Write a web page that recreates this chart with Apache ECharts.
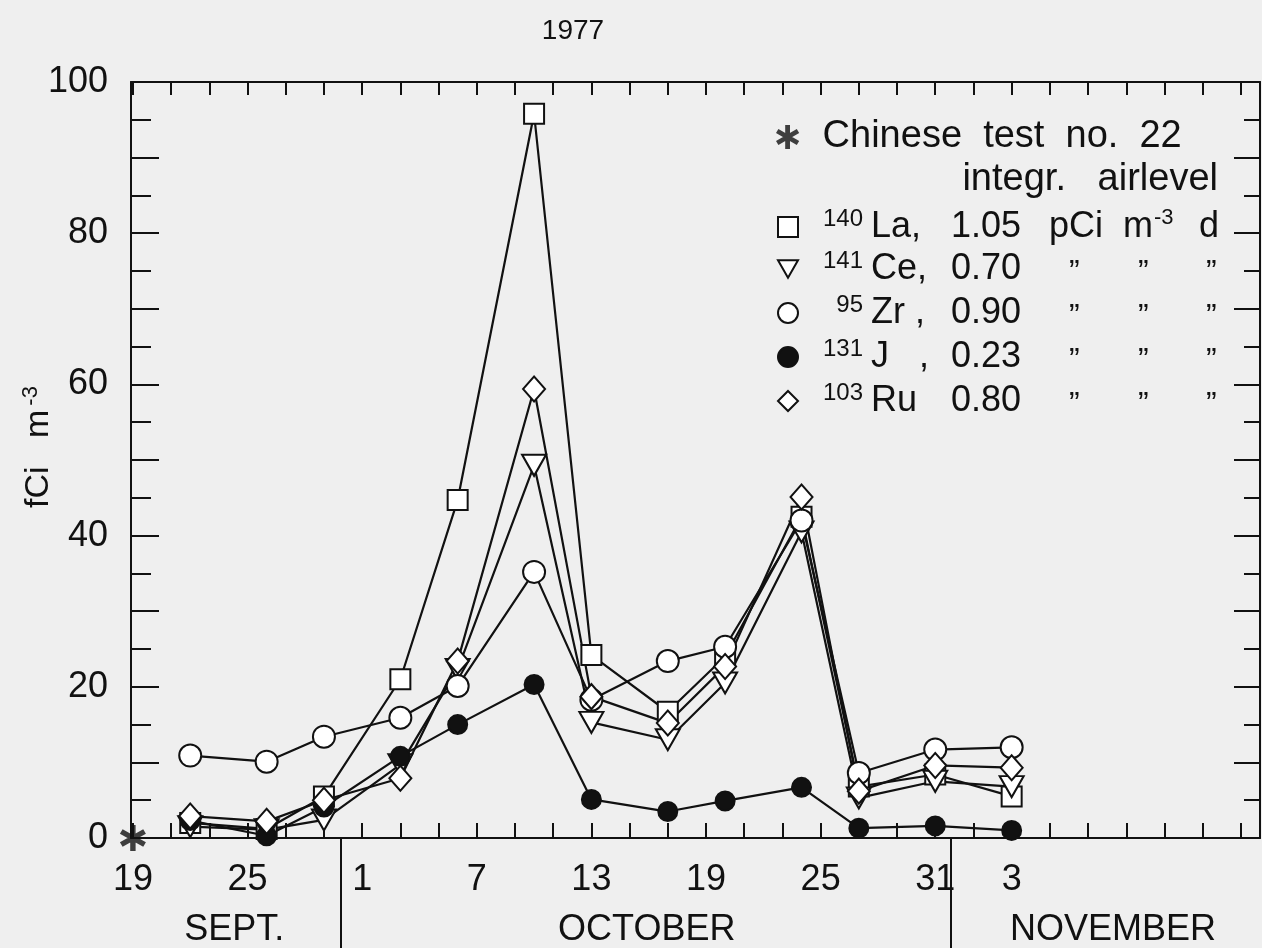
<!DOCTYPE html>
<html>
<head>
<meta charset="utf-8">
<script src="https://cdn.jsdelivr.net/npm/echarts@6/dist/echarts.min.js"></script>
<style>
  html, body { margin: 0; padding: 0; background: #efefef; }
  #chart { width: 1262px; height: 948px; }
</style>
</head>
<body>
<div id="chart"></div>
<script>
// Sampling days, counted from 19 September 1977 (day 0)
const sampleDays = [3, 7, 10, 14, 17, 21, 24, 28, 31, 35, 38, 42, 46];

// Air concentrations in fCi m^-3
const la140 = [2.0, 1.2, 5.5, 21.0, 44.7, 95.8, 24.2, 16.7, 24.0, 42.5, 6.8, 8.4, 5.5];
const ce141 = [1.5, 1.1, 2.4, 9.7, 22.3, 49.3, 15.3, 13.0, 20.5, 40.5, 5.3, 7.5, 6.8];
const zr95  = [10.9, 10.1, 13.4, 15.9, 20.1, 35.2, 18.3, 23.4, 25.3, 42.0, 8.6, 11.7, 12.0];
const j131  = [2.3, 0.3, 4.1, 10.8, 15.0, 20.3, 5.1, 3.5, 4.9, 6.7, 1.3, 1.6, 1.0];
const ru103 = [2.9, 2.2, 5.0, 7.9, 23.4, 59.4, 18.7, 15.2, 22.7, 45.1, 6.2, 9.6, 9.3];

// Chinese test no. 22
const testDay = 0;
const testValue = 0;

// Legend texts: mass number, element, integrated air level (pCi m^-3 d)
const nuclideMass = ['140', '141', '  95', '131', '103'];
const nuclideElem = ['La,', 'Ce,', 'Zr ,', 'J   ,', 'Ru'];
const airLevel = ['1.05', '0.70', '0.90', '0.23', '0.80'];

// Day axis labels and month row
const dayLabelDays = [0, 6, 12, 18, 24, 30, 36, 42, 46];
const dayLabelText = ['19', '25', '1', '7', '13', '19', '25', '31', '3'];
const monthDays = [5.3, 26.9, 51.3];
const monthText = ['SEPT.', 'OCTOBER', 'NOVEMBER'];
const monthBreaks = [10.9, 42.8];

const FONT = "'Liberation Sans', Arial, sans-serif";
const dayTicks = [];
for (let d = 0; d <= 58; d += 2) dayTicks.push(d);

const triDown = 'path://M0,0 L20,0 L10,17.3 Z';
const star = 'path://M-2,-10 L2,-10 L2,10 L-2,10 Z ' +
  'M7.66,-6.73 L9.66,-3.27 L-7.66,6.73 L-9.66,3.27 Z ' +
  'M9.66,3.27 L7.66,6.73 L-9.66,-3.27 L-7.66,-6.73 Z';

const seriesNames = nuclideMass.map((m, i) => m.trim() + nuclideElem[i].replace(/[ ,]/g, ''));
const seriesValues = [la140, ce141, zr95, j131, ru103];
const seriesSymbols = ['rect', triDown, 'circle', 'circle', 'diamond'];
const seriesSizes = [[20, 20], [24, 21], [22, 22], [19, 19], [22, 25]];
const seriesFill = ['#ffffff', '#ffffff', '#ffffff', '#111111', '#ffffff'];

const chart = echarts.init(document.getElementById('chart'), null, { renderer: 'canvas' });

const lineSeries = seriesNames.map((name, i) => ({
  name: name,
  type: 'line',
  xAxisIndex: 0,
  yAxisIndex: 0,
  data: sampleDays.map((d, k) => [d, seriesValues[i][k]]),
  symbol: seriesSymbols[i],
  symbolSize: seriesSizes[i],
  showAllSymbol: true,
  lineStyle: { color: '#111', width: 2.2 },
  itemStyle: { color: seriesFill[i], borderColor: '#111', borderWidth: 2 },
  emphasis: { disabled: true },
  z: 3
}));

// Legend columns: every token left-aligned in a fixed-width box
const base = { fontFamily: FONT, color: '#111', align: 'left' };
const tok = (extra) => Object.assign({}, base, extra);
const richLegend = {
  g:    tok({ fontSize: 24, width: 20, lineHeight: 16 }),
  sup:  tok({ fontSize: 24, width: 48, verticalAlign: 'top', lineHeight: 16 }),
  el:   tok({ fontSize: 36, width: 80, lineHeight: 40 }),
  val:  tok({ fontSize: 36, width: 98, lineHeight: 40 }),
  u1:   tok({ fontSize: 36, width: 74, lineHeight: 40 }),
  m:    tok({ fontSize: 36, width: 31, lineHeight: 40 }),
  sup2: tok({ fontSize: 22, width: 45, verticalAlign: 'top', lineHeight: 18 }),
  u3:   tok({ fontSize: 36, width: 30, lineHeight: 40 }),
  g2:   tok({ fontSize: 32, width: 20, lineHeight: 30 }),
  q1:   tok({ fontSize: 32, width: 69, verticalAlign: 'bottom', lineHeight: 30 }),
  q2:   tok({ fontSize: 32, width: 68, verticalAlign: 'bottom', lineHeight: 30 }),
  q3:   tok({ fontSize: 32, width: 20, verticalAlign: 'bottom', lineHeight: 30 })
};

function legendText(name) {
  const i = seriesNames.indexOf(name);
  let s = '{g| }{sup|' + nuclideMass[i] + '}{el|' + nuclideElem[i] + '}{val|' + airLevel[i] + '}';
  if (i === 0) {
    s += '{u1|pCi}{m|m}{sup2|-3}{u3|d}';
  } else {
    s += '{g2| }{q1|\u201D}{q2|\u201D}{q3|\u201D}';
  }
  return s;
}

const option = {
  backgroundColor: '#efefef',
  animation: false,
  textStyle: { fontFamily: FONT, color: '#111' },
  grid: { left: 131, right: 2, top: 82, bottom: 110, containLabel: false, outerBoundsMode: 'none' },
  legend: [
    {
      data: [{ name: 'Chinese test no. 22', icon: star }],
      left: 771, top: 113, padding: 5,
      itemWidth: 24, itemHeight: 24,
      itemStyle: { borderWidth: 0 },
      formatter: '{t|Chinese  test  no.  22}',
      textStyle: { rich: { t: tok({ fontSize: 38, lineHeight: 40, padding: [0, 0, 0, 18] }) } },
      selectedMode: false
    },
    {
      data: seriesNames.map((n, i) => ({ name: n, icon: seriesSymbols[i] })),
      orient: 'vertical',
      left: 772, top: 202, padding: 5,
      itemWidth: 20, itemHeight: 20,
      itemGap: 4,
      itemStyle: { borderColor: '#111', borderWidth: 2 },
      formatter: legendText,
      textStyle: { rich: richLegend },
      selectedMode: false
    }
  ],
  xAxis: [
    {
      type: 'value', position: 'bottom', min: -0.1, max: 59,
      axisLine: { show: true, onZero: false, lineStyle: { color: '#111', width: 2 } },
      axisTick: { show: true, inside: true, length: 15, customValues: dayTicks, lineStyle: { color: '#111', width: 2 } },
      axisLabel: {
        show: true, margin: 24, fontSize: 36, color: '#111', fontFamily: FONT,
        customValues: dayLabelDays,
        formatter: v => dayLabelText[dayLabelDays.indexOf(v)] || ''
      },
      splitLine: { show: false }
    },
    {
      type: 'value', position: 'top', min: -0.1, max: 59,
      axisLine: { show: true, onZero: false, lineStyle: { color: '#111', width: 2 } },
      axisTick: { show: true, inside: true, length: 13, customValues: dayTicks, lineStyle: { color: '#111', width: 2 } },
      axisLabel: { show: false },
      splitLine: { show: false }
    },
    {
      type: 'value', position: 'bottom', min: -0.1, max: 59,
      axisLine: { show: false, onZero: false },
      axisTick: { show: true, inside: false, length: 112, customValues: monthBreaks, lineStyle: { color: '#111', width: 2 } },
      axisLabel: {
        show: true, margin: 74, fontSize: 36, color: '#111', fontFamily: FONT,
        customValues: monthDays,
        formatter: v => monthText[monthDays.indexOf(v)] || ''
      },
      splitLine: { show: false }
    }
  ],
  yAxis: [
    {
      type: 'value', position: 'left', min: 0, max: 100, interval: 10,
      name: '{a|fCi   m}{s|-3}',
      nameLocation: 'middle', nameRotate: 90, nameGap: 73,
      nameMoveOverlap: false,
      nameTextStyle: {
        padding: [0, 0, 0, 26],
        rich: {
          a: { fontSize: 34, lineHeight: 38, fontFamily: FONT, color: '#111' },
          s: { fontSize: 22, lineHeight: 22, verticalAlign: 'top', padding: [0, 0, 0, 4], fontFamily: FONT, color: '#111' }
        }
      },
      axisLine: { show: true, onZero: false, lineStyle: { color: '#111', width: 2 } },
      axisTick: { show: true, inside: true, length: 28, lineStyle: { color: '#111', width: 2 } },
      minorTick: { show: true, splitNumber: 2, length: 20, lineStyle: { color: '#111', width: 2 } },
      axisLabel: {
        show: true, margin: 23, fontSize: 36, color: '#111', fontFamily: FONT,
        formatter: v => (v % 20 === 0 ? String(v) : '')
      },
      splitLine: { show: false },
      minorSplitLine: { show: false }
    },
    {
      type: 'value', position: 'right', min: 0, max: 100, interval: 10,
      axisLine: { show: true, onZero: false, lineStyle: { color: '#111', width: 2 } },
      axisTick: { show: true, inside: true, length: 26, lineStyle: { color: '#111', width: 2 } },
      minorTick: { show: true, splitNumber: 2, length: 16, lineStyle: { color: '#111', width: 2 } },
      axisLabel: { show: false },
      splitLine: { show: false },
      minorSplitLine: { show: false }
    }
  ],
  graphic: [
    {
      type: 'text', x: 573, y: 31,
      style: { text: '1977', fontSize: 28, fontFamily: FONT, fill: '#111', textAlign: 'center', textVerticalAlign: 'middle' }
    },
    {
      type: 'text', x: 1218, y: 180,
      style: { text: 'integr.   airlevel', fontSize: 38, fontFamily: FONT, fill: '#111', textAlign: 'right', textVerticalAlign: 'middle' }
    }
  ],
  series: lineSeries.concat([
    {
      name: 'Chinese test no. 22',
      type: 'scatter',
      data: [[testDay, testValue]],
      symbol: star,
      symbolSize: 26,
      itemStyle: { color: '#111' },
      emphasis: { disabled: true },
      clip: false,
      z: 4
    }
  ])
};

chart.setOption(option);
</script>
</body>
</html>
